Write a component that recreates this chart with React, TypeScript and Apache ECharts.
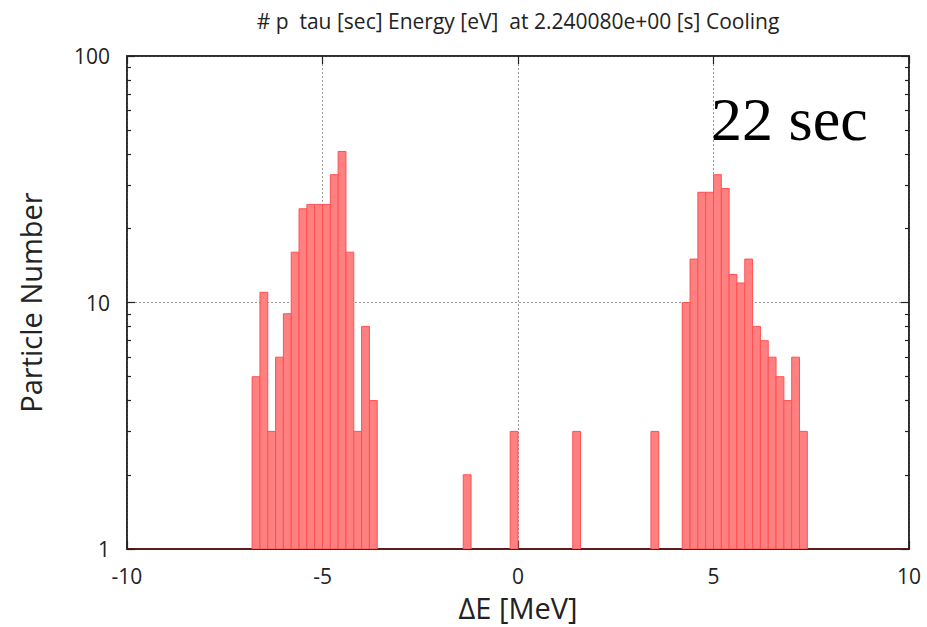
import React, { useEffect, useRef } from "react";
import * as echarts from "echarts";

// Energy-deviation histogram bins (bin centre in MeV, particle count), 0.2 MeV wide
const binCenters = [
  -6.7, -6.5, -6.3, -6.1, -5.9, -5.7, -5.5, -5.3, -5.1, -4.9, -4.7, -4.5, -4.3, -4.1, -3.9, -3.7,
  -1.3, -0.1, 1.5, 3.5,
  4.3, 4.5, 4.7, 4.9, 5.1, 5.3, 5.5, 5.7, 5.9, 6.1, 6.3, 6.5, 6.7, 6.9, 7.1, 7.3,
];
const binCounts = [
  5, 11, 3, 6, 9, 16, 24, 25, 25, 25, 33, 41, 16, 3, 8, 4,
  2, 3, 3, 3,
  10, 15, 28, 28, 33, 29, 13, 12, 15, 8, 7, 6, 5, 4, 6, 3,
];
const binWidth = 0.2;

const majorTicks = [1, 10, 100];
const minorTicks = [2, 3, 4, 5, 6, 7, 8, 9, 20, 30, 40, 50, 60, 70, 80, 90];

const titleText = "# p  tau [sec] Energy [eV]  at 2.240080e+00 [s] Cooling";
const timeLabel = "22 sec";

const sans = "'Open Sans', 'Noto Sans', sans-serif";

export default function App() {
  const ref = useRef<HTMLDivElement>(null);

  useEffect(() => {
    document.body.style.margin = "0";
    const chart = echarts.init(ref.current!, null, { renderer: "svg" });

    const logAxis = (position: "left" | "right", ticks: number[], len: number, labels: boolean, main: boolean) => ({
      type: "log",
      logBase: 10,
      min: 1,
      max: 100,
      position,
      axisLine: { show: main, onZero: false, lineStyle: { color: "#222", width: 1.5 } },
      axisTick: {
        show: true,
        inside: true,
        length: len,
        customValues: ticks,
        lineStyle: { color: "#222", width: 1.2 },
      },
      axisLabel: {
        show: labels,
        customValues: majorTicks,
        color: "#222",
        fontFamily: sans,
        fontSize: 21,
        margin: 17,
      },
      splitLine: {
        show: labels,
        lineStyle: { color: "#999", type: [2, 2], width: 1 },
      },
      minorTick: { show: false },
      name: labels ? "Particle Number" : "",
      nameLocation: "middle",
      nameGap: 82,
      nameTextStyle: { fontFamily: sans, fontSize: 29, color: "#222" },
    });

    const option: any = {
      animation: false,
      backgroundColor: "#fff",
      grid: {
        left: 127,
        right: 18,
        top: 56,
        bottom: 75,
        show: true,
        borderColor: "#222",
        borderWidth: 1.5,
        backgroundColor: "transparent",
      },
      graphic: [
        {
          type: "text",
          x: 518,
          y: 21,
          style: {
            text: titleText,
            fontFamily: sans,
            fontSize: 21,
            fill: "#222",
            align: "center",
            verticalAlign: "middle",
          },
        },
        {
          type: "text",
          x: 711,
          y: 88,
          z: 10,
          style: {
            text: timeLabel,
            fontFamily: "'Liberation Serif', 'DejaVu Serif', serif",
            fontSize: 62,
            fill: "#000",
            align: "left",
            verticalAlign: "top",
          },
        },
      ],
      xAxis: [
        {
          type: "value",
          min: -10,
          max: 10,
          interval: 5,
          position: "bottom",
          axisLine: { show: true, onZero: false, lineStyle: { color: "#5a1c1c", width: 2 } },
          axisTick: { show: true, inside: true, length: 8, lineStyle: { color: "#222", width: 1.2 } },
          axisLabel: { color: "#222", fontFamily: sans, fontSize: 21, margin: 16 },
          splitLine: { show: true, lineStyle: { color: "#999", type: [2, 2], width: 1 } },
          name: "ΔE [MeV]",
          nameLocation: "middle",
          nameGap: 44,
          nameTextStyle: { fontFamily: sans, fontSize: 29, color: "#222" },
        },
        {
          type: "value",
          min: -10,
          max: 10,
          interval: 5,
          position: "top",
          axisLine: { show: true, onZero: false, lineStyle: { color: "#222", width: 1.5 } },
          axisTick: { show: true, inside: true, length: 8, lineStyle: { color: "#222", width: 1.2 } },
          axisLabel: { show: false },
          splitLine: { show: false },
        },
      ],
      yAxis: [
        logAxis("left", majorTicks, 8, true, true),
        logAxis("left", minorTicks, 4, false, false),
        logAxis("right", majorTicks, 8, false, true),
        logAxis("right", minorTicks, 4, false, false),
      ],
      series: [
        {
          type: "custom",
          xAxisIndex: 0,
          yAxisIndex: 0,
          clip: true,
          data: binCenters.map((c, i) => [c, binCounts[i]]),
          encode: { x: 0, y: 1 },
          renderItem: (_params: any, api: any) => {
            const c = api.value(0);
            const v = api.value(1);
            const topLeft = api.coord([c - binWidth / 2, v]);
            const bottomRight = api.coord([c + binWidth / 2, 1]);
            return {
              type: "rect",
              shape: {
                x: topLeft[0],
                y: topLeft[1],
                width: bottomRight[0] - topLeft[0],
                height: bottomRight[1] - topLeft[1],
              },
              style: { fill: "#ff8080", stroke: "#ff5050", lineWidth: 1 },
            };
          },
        },
      ],
    };

    chart.setOption(option);
    return () => chart.dispose();
  }, []);

  return <div ref={ref} style={{ width: 927, height: 627 }} />;
}
